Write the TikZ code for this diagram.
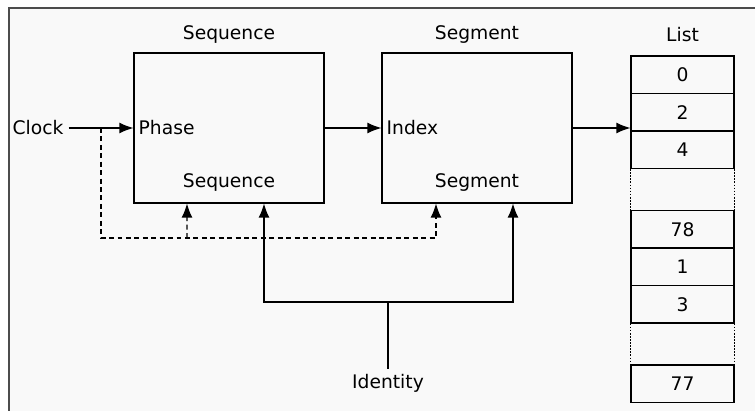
\documentclass[tikz,border=0pt]{standalone}
\usepackage{fontspec}
\setmainfont{DejaVu Sans}
\usetikzlibrary{arrows.meta}
\definecolor{panel}{HTML}{F9F9F9}

\begin{document}
\begin{tikzpicture}[x=0.25cm,y=0.25cm,line width=0.8pt,
  font=\fontsize{13.3}{15}\selectfont,
  block/.style={draw,minimum width=4.75cm,minimum height=3.75cm,inner sep=0pt},
  cell/.style={draw,minimum width=2.575cm,minimum height=0.9375cm,inner sep=0pt},
  arr/.style={-{Latex[length=3.5mm,width=2.7mm]}},
  feedback/.style={dash pattern=on 3.5pt off 2.5pt},
  gapline/.style={dash pattern=on 1.2pt off 1pt}]
  \useasboundingbox (0,0) rectangle (75.5,41.1);
  \clip (0,0) rectangle (75.5,41.1);
  \fill[white] (0,0) rectangle (75.5,41.1);
  \draw[draw=black!70,fill=panel] (0.9,-1) rectangle (77,40.3);

  % the two blocks
  \node[block] (seq) at (22.9,28.3) {};
  \node[block] (seg) at (47.7,28.3) {};
  \node (seqname) at (22.9,37.6) {Sequence};
  \node (segname) at (47.7,37.6) {Segment};
  \node (listname) at (68.25,37.6) {List};
  \node[anchor=west] (phase) at (seq.west) {Phase};
  \node[anchor=west] (index) at (seg.west) {Index};
  \node (seqout) at (22.9,22.8) {Sequence};
  \node (segout) at (47.7,22.8) {Segment};
  \node (clock) at (3.8,28.3) {Clock};
  \node (identity) at (38.8,2.8) {Identity};

  % the list
  \foreach \v/\y in {0/33.625, 2/29.875, 4/26.125, 78/18.175, 1/14.425, 3/10.675, 77/2.725}
    \node[cell] (c\v) at (68.25,\y) {\v};
  \foreach \a/\b in {c4/c78, c3/c77} {
    \draw[gapline] (\a.south west) -- (\b.north west);
    \draw[gapline] (\a.south east) -- (\b.north east);
  }

  \draw[arr] (clock) -- (seq.west);
  \draw[arr] (seq) -- (seg);
  \draw[arr] (seg.east) -- (seg.east -| c2.west);

  \coordinate (tap) at (10.1,28.3);
  \coordinate (tapdown) at (10.1,17.3);
  \draw[feedback,arr] (tap) -- (tapdown) -| ([xshift=-1.025cm]seg.south);
  \draw[feedback,arr] (18.7,17.3) -- ([xshift=-1.05cm]seq.south);

  \coordinate (split) at (38.8,10.9);
  \draw (identity) -- (split);
  \draw[arr] (split) -| ([xshift=0.875cm]seq.south);
  \draw[arr] (split) -| ([xshift=0.9cm]seg.south);
\end{tikzpicture}
\end{document}
